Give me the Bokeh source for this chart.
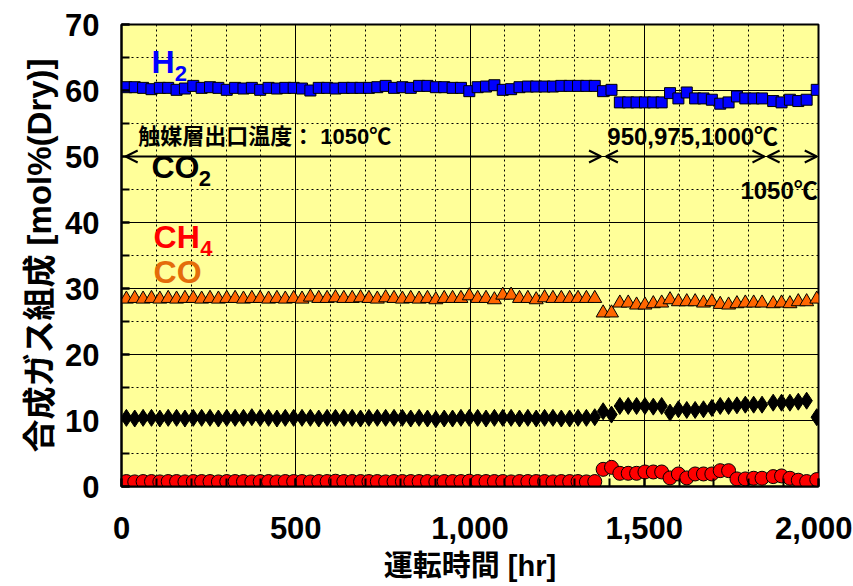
from bokeh.plotting import figure
from bokeh.models import SingleIntervalTicker, NumeralTickFormatter, Label, Arrow, OpenHead, Range1d
from bokeh.embed import file_html
from bokeh.resources import INLINE

# ---- data ----
hours = [14, 38, 62, 86, 110, 134, 158, 182, 206, 230, 254, 278, 302, 326, 350, 374, 398, 422, 446, 470,
         494, 518, 542, 566, 590, 614, 638, 662, 686, 710, 734, 758, 782, 806, 830, 854, 878, 902, 926, 950,
         974, 998, 1022, 1046, 1070, 1094, 1118, 1142, 1166, 1190, 1214, 1238, 1262, 1286, 1310, 1334, 1358,
         1382, 1406, 1430, 1454, 1478, 1502, 1526, 1550, 1574, 1598, 1622, 1646, 1670, 1694, 1718, 1742, 1766,
         1790, 1814, 1838,
         1870, 1894, 1918, 1942, 1966, 1995]

h2 = [60.5, 60.5, 60.4, 60.2, 60.4, 60.4, 60.1, 60.3, 60.7, 60.4, 60.5, 60.4, 60.1, 60.4, 60.3, 60.4, 60.1, 60.4, 60.3, 60.4,
      60.4, 60.3, 60.0, 60.4, 60.4, 60.3, 60.4, 60.4, 60.4, 60.4, 60.5, 60.7, 60.4, 60.5, 60.4, 60.7, 60.7, 60.5, 60.5, 60.4,
      60.4, 59.9, 60.5, 60.6, 60.8, 60.1, 60.2, 60.5, 60.6, 60.6, 60.6, 60.6, 60.7, 60.7, 60.7, 60.7, 60.7,
      59.9, 60.1, 58.2, 58.2, 58.2, 58.2, 58.2, 58.2, 59.6, 58.8, 59.7, 58.8, 58.8, 58.6, 58.0, 58.2, 59.1,
      58.8, 58.8, 58.8,
      58.4, 58.2, 58.6, 58.4, 58.6, 60.1]

co = [28.4, 28.5, 28.4, 28.5, 28.4, 28.5, 28.4, 28.5, 28.5, 28.4, 28.5, 28.4, 28.5, 28.5, 28.4, 28.5, 28.5, 28.4, 28.5, 28.4,
      28.5, 28.4, 28.7, 28.5, 28.5, 28.6, 28.5, 28.5, 28.6, 28.5, 28.4, 28.6, 28.5, 28.4, 28.5, 28.4, 28.5, 28.3, 28.5, 28.5,
      28.5, 28.9, 28.5, 28.5, 28.3, 29.0, 29.0, 28.5, 28.5, 28.3, 28.6, 28.5, 28.5, 28.5, 28.5, 28.5, 28.5,
      26.3, 26.3, 27.8, 27.8, 27.5, 27.5, 27.7, 27.8, 28.3, 28.0, 28.0, 28.0, 27.8, 28.0, 27.6, 27.5, 27.7,
      27.8, 27.8, 27.8,
      27.7, 27.8, 27.7, 28.0, 28.0, 28.4]

co2 = [10.4, 10.3, 10.4, 10.4, 10.3, 10.4, 10.4, 10.3, 10.4, 10.4, 10.4, 10.3, 10.4, 10.4, 10.4, 10.5, 10.4, 10.4, 10.3, 10.4,
       10.4, 10.4, 10.4, 10.3, 10.4, 10.4, 10.4, 10.4, 10.3, 10.4, 10.4, 10.4, 10.4, 10.4, 10.3, 10.4, 10.3, 10.2, 10.3, 10.3,
       10.4, 10.4, 10.4, 10.3, 10.4, 10.4, 10.4, 10.3, 10.4, 10.3, 10.4, 10.4, 10.3, 10.3, 10.4, 10.4, 10.5,
       11.4, 10.9, 12.2, 12.2, 12.2, 12.2, 12.1, 12.2, 11.2, 11.7, 11.6, 11.6, 11.7, 11.9, 12.2, 12.2, 12.3,
       12.4, 12.4, 12.4,
       12.7, 12.7, 12.7, 12.85, 13.0, 10.5]

ch4 = [0.75, 0.7, 0.75, 0.75, 0.7, 0.75, 0.75, 0.7, 0.75, 0.75, 0.75, 0.7, 0.75, 0.75, 0.75, 0.7, 0.75, 0.75, 0.7, 0.75,
       0.75, 0.75, 0.7, 0.75, 0.75, 0.8, 0.75, 0.75, 0.75, 0.75, 0.75, 0.7, 0.75, 0.75, 0.75, 0.75, 0.75, 0.7, 0.75, 0.75,
       0.75, 0.8, 0.75, 0.75, 0.75, 0.75, 0.7, 0.75, 0.75, 0.75, 0.75, 0.7, 0.75, 0.75, 0.75, 0.7, 0.75,
       2.6, 2.9, 2.0, 2.0, 2.0, 2.2, 2.2, 2.2, 1.3, 1.9, 1.3, 1.9, 1.9, 1.9, 2.4, 2.4, 1.15,
       1.15, 1.25, 1.25,
       1.5, 1.6, 1.25, 0.95, 0.75, 1.05]

x_ticks_interval = 500
y_ticks_interval = 10

FONT = "'Liberation Sans', 'Noto Sans CJK JP', sans-serif"

p = figure(width=852, height=585, x_range=Range1d(0, 2000), y_range=Range1d(0, 70),
           output_backend="svg", toolbar_location=None,
           min_border_left=121, min_border_right=34, min_border_top=24, min_border_bottom=99)

p.background_fill_color = "#FFFF99"
p.border_fill_color = "white"
p.outline_line_color = "black"
p.outline_line_width = 2

p.xaxis.ticker = SingleIntervalTicker(interval=x_ticks_interval, num_minor_ticks=5)
p.yaxis.ticker = SingleIntervalTicker(interval=y_ticks_interval, num_minor_ticks=2)
p.xaxis.formatter = NumeralTickFormatter(format="0,0")

for ax in (p.xaxis, p.yaxis):
    ax.axis_line_color = "black"
    ax.axis_line_width = 2
    ax.major_tick_in = 8
    ax.major_tick_out = 0
    ax.minor_tick_in = 8
    ax.minor_tick_out = 0
    ax.major_tick_line_width = 2
    ax.minor_tick_line_width = 2
    ax.major_tick_line_color = "black"
    ax.minor_tick_line_color = "black"
    ax.major_label_text_font = FONT
    ax.major_label_text_font_style = "bold"
    ax.major_label_text_font_size = "31px"
    ax.major_label_text_color = "black"
    ax.axis_label_text_font = FONT
    ax.axis_label_text_font_style = "bold"
    ax.axis_label_text_color = "black"

p.xaxis.axis_label_text_font_size = "29px"
p.yaxis.axis_label_text_font_size = "33px"
p.yaxis.major_label_standoff = 22
p.xaxis.major_label_standoff = 30
p.yaxis.axis_label = "合成ガス組成 [mol%(Dry)]"
p.xaxis.axis_label = "運転時間 [hr]"
p.yaxis.axis_label_standoff = 4
p.xaxis.axis_label_standoff = 8

for g in (p.xgrid, p.ygrid):
    g.grid_line_color = "black"
    g.grid_line_width = 1
    g.minor_grid_line_color = "black"
    g.minor_grid_line_width = 1
    g.minor_grid_line_dash = "2 3"

p.scatter(hours, h2, marker="square", size=11, fill_color="#0000FF", line_color="black", line_width=1)
p.scatter(hours, co, marker="triangle", size=14, fill_color="#FF6600", line_color="black", line_width=1)
p.scatter(hours, co2, marker="diamond", size=17, fill_color="black", line_color="black", line_width=1)
p.scatter(hours, ch4, marker="circle", size=14, fill_color="#FF0000", line_color="black", line_width=1)

# arrows for temperature periods
for xs, xe in ((12, 1376), (1390, 1845), (1854, 1995)):
    p.add_layout(Arrow(start=OpenHead(size=12, line_width=2, line_color="black"),
                       end=OpenHead(size=12, line_width=2, line_color="black"),
                       x_start=xs, y_start=50, x_end=xe, y_end=50,
                       line_color="black", line_width=2))

def lab(text, x, y, size, color, align="left", baseline="middle"):
    p.add_layout(Label(x=x, y=y, text=text, text_font=FONT, text_font_style="bold",
                       text_font_size=size, text_color=color, text_align=align, text_baseline=baseline))

lab("触媒層出口温度： 1050℃", 48, 53.1, "22px", "black")
lab("950,975,1000℃", 1394, 53.1, "24px", "black")
lab("1050℃", 1998, 44.9, "24px", "black", align="right")

# species labels (with subscripts)
lab("H", 86, 64.3, "32px", "#0000FF")
lab("2", 153, 62.6, "22px", "#0000FF")
lab("CO", 86, 48.4, "32px", "black")
lab("2", 222, 46.6, "22px", "black")
lab("CH", 92, 37.8, "32px", "#FF0000")
lab("4", 226, 36.0, "22px", "#FF0000")
lab("CO", 92, 32.5, "32px", "#E46C0A")

open("out.html", "w").write(file_html(p, INLINE))
